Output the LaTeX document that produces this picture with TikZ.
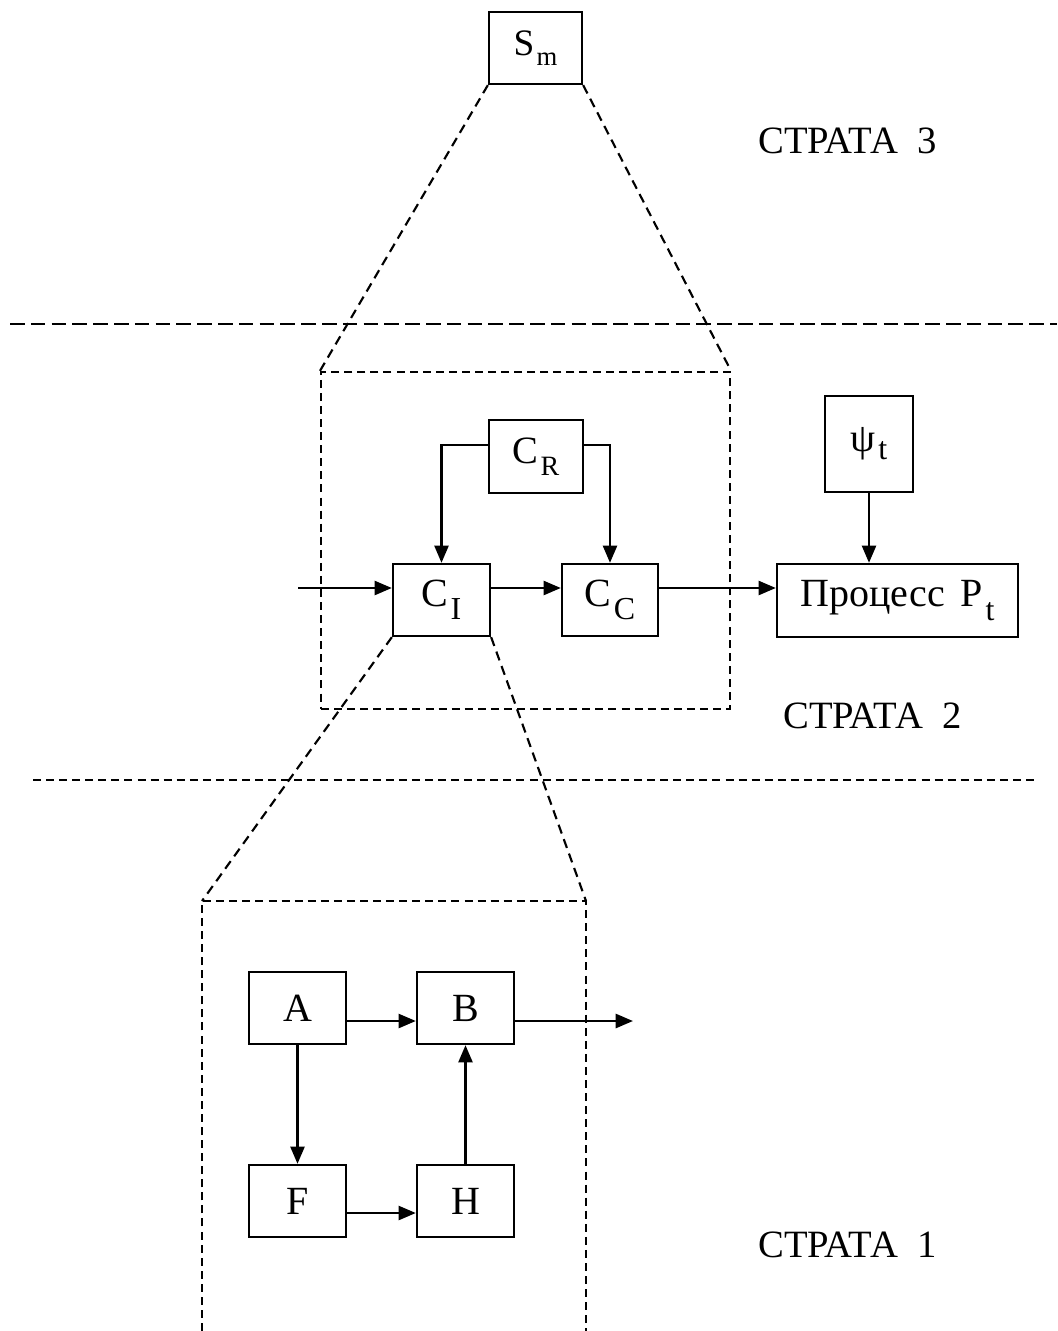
\documentclass[tikz,border=0pt]{standalone}
\usepackage{fontspec}
\setmainfont{Liberation Serif}
\usetikzlibrary{arrows.meta}
% one drawing unit = 0.75pt
\def\uu{0.75pt}
% lowered subscript of a given size
\newcommand\lowsub[3]{\hspace{0.06em}\raisebox{-#2pt}{\fontsize{#1}{#1}\selectfont #3}}
\begin{document}
\begin{tikzpicture}[x=0.75pt,y=-0.75pt,
  box/.style={draw, line width=1.7pt, inner sep=0pt,
    font=\fontsize{30}{30}\selectfont},
  arr/.style={line width=2pt, -{Triangle[length=13pt,width=10.5pt]}},
  frame/.style={draw, line width=1.6pt, dash pattern=on 6pt off 3.8pt, inner sep=0pt},
  proj/.style={line width=1.6pt, dash pattern=on 7pt off 4.5pt},
  sepline/.style={line width=1.7pt},
  strata/.style={anchor=base west, inner sep=0pt, font=\fontsize{29}{29}\selectfont}]
\useasboundingbox (0,0) rectangle (1057,1331);

% strata separators
\draw[sepline, dash pattern=on 11pt off 4.6pt] (10,324) -- (1057,324);
\draw[sepline, dash pattern=on 6pt off 3.8pt] (33,780) -- (1037,780);

% strata titles
\node[strata] (t3) at (758,153) {СТРАТА\hspace{0.5em}3};
\node[strata] (t2) at (783,728) {СТРАТА\hspace{0.5em}2};
\node[strata] (t1) at (758,1257) {СТРАТА\hspace{0.5em}1};

% stratum 3
\node[box, minimum width=93*\uu, minimum height=72*\uu] (Sm) at (535.5,48)
  {\fontsize{28}{28}\selectfont S\lowsub{20}{8}{m}};

% stratum 2
\node[frame, minimum width=409*\uu, minimum height=337*\uu] (Z2) at (525.5,540.5) {};
\draw[proj] (Sm.south west) -- (Z2.north west);
\draw[proj] (Sm.south east) -- (Z2.north east);

\node[box, minimum width=94*\uu, minimum height=73*\uu] (CR) at (536,456.5)
  {\fontsize{29}{29}\selectfont C\lowsub{21}{9}{R}};
\node[box, minimum width=97*\uu, minimum height=72*\uu] (CI) at (441.5,600)
  {C\lowsub{24}{10}{I}};
\node[box, minimum width=96*\uu, minimum height=72*\uu] (CC) at (610,600)
  {C\lowsub{24}{10}{C}};
\node[box, minimum width=241*\uu, minimum height=73*\uu] (P) at (897.5,600.5)
  {Процесс\hspace{0.4em}P\lowsub{24}{10}{t}};
\node[box, minimum width=88*\uu, minimum height=96*\uu] (Psi) at (869,444)
  {ψ\lowsub{24}{6}{t}};

\coordinate (in) at (298,588);
\coordinate (ciin) at ([yshift=9pt]CI.west);
\coordinate (ciout) at ([yshift=9pt]CI.east);
\coordinate (ccin) at ([yshift=9pt]CC.west);
\coordinate (ccout) at ([yshift=9pt]CC.east);

\draw[arr] ([yshift=8.6pt]CR.west) -| (CI.north);
\draw[arr] ([yshift=8.6pt]CR.east) -| (CC.north);
\draw[arr] (in) -- (ciin);
\draw[arr] (ciout) -- (ccin);
\draw[arr] (ccout) -- (ccout -| P.west);
\draw[arr] (Psi.south) -- (Psi.south |- P.north);

% stratum 1
\coordinate (z1bl) at (202,1331);
\coordinate (z1tl) at (202,901);
\coordinate (z1tr) at (586,901);
\coordinate (z1br) at (586,1331);
\draw[frame] (z1bl) -- (z1tl) -- (z1tr) -- (z1br);
\draw[proj] (CI.south west) -- (z1tl);
\draw[proj] (CI.south east) -- (z1tr);

\node[box, minimum width=97*\uu, minimum height=72*\uu] (A) at (297.5,1008) {A};
\node[box, minimum width=97*\uu, minimum height=72*\uu] (B) at (465.5,1008) {B};
\node[box, minimum width=97*\uu, minimum height=72*\uu] (F) at (297.5,1201) {F};
\node[box, minimum width=97*\uu, minimum height=72*\uu] (H) at (465.5,1201) {H};
\coordinate (out) at (633,1021);

\draw[arr] ([yshift=-9.75pt]A.east) -- ([yshift=-9.75pt]B.west);
\draw[arr] ([yshift=-9.75pt]B.east) -- (out);
\draw[arr] (A.south) -- (F.north);
\draw[arr] ([yshift=-9pt]F.east) -- ([yshift=-9pt]H.west);
\draw[arr] (H.north) -- (B.south);
\end{tikzpicture}
\end{document}
